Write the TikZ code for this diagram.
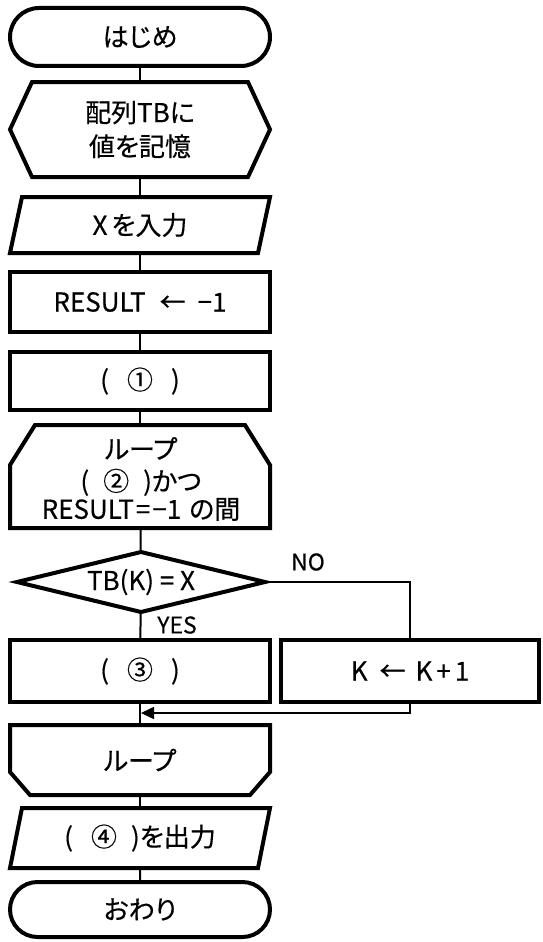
\documentclass[tikz,border=0pt]{standalone}
\usepackage{fontspec}
\setmainfont{Noto Sans CJK JP}[RawFeature=+palt, FakeBold=0.4]
\usetikzlibrary{arrows.meta,shapes.misc}
\begin{document}
\begin{tikzpicture}[x=1pt,y=-1pt,
  every node/.style={inner sep=0pt, outer sep=0pt},
  txt/.style={font=\fontsize{26}{34}\selectfont, align=center},
  lbl/.style={font=\fontsize{23}{28}\selectfont},
  frame/.style={line width=4pt, line join=miter},
  holder/.style={txt, rectangle, minimum width=260pt, minimum height=#1},
  procbox/.style={holder=#1, draw, frame},
  term/.style={txt, rounded rectangle, draw, frame, minimum width=260pt, minimum height=#1},
  link/.style={line width=2pt},
  branch/.style={line width=1.6pt}]
\useasboundingbox (0,0) rectangle (542,942);
\fill[white] (0,0) rectangle (542,942);

% start terminal
\node[term=58pt] (start) at (140,37) {はじめ};

% preparation (hexagon)
\node[holder=95pt] (prep) at (140,129.5) {配列TBに\\値を記憶};
\draw[frame] ([xshift=22pt]prep.north west) -- ([xshift=-22pt]prep.north east)
  -- (prep.east) -- ([xshift=-22pt]prep.south east)
  -- ([xshift=22pt]prep.south west) -- (prep.west) -- cycle;

% input (parallelogram)
\node[holder=56pt] (inp) at (140,225) {X\hspace{4pt}を入力};
\draw[frame] ([xshift=12pt]inp.north west) -- (inp.north east)
  -- ([xshift=-12pt]inp.south east) -- (inp.south west) -- cycle;

% processes
\node[procbox=60pt] (init) at (140,302) {RESULT\hspace{14pt}←\hspace{12pt}−1};
\node[procbox=58pt] (s1) at (140,381) {(\hspace{18pt}①\hspace{18pt})};

% loop start
\node[holder=103pt] (lbeg) at (140,476.5) {};
\node[txt, font=\fontsize{26}{28}\selectfont] (lbegtext) at (141,479)
  {ループ\\[4pt](\hspace{14pt}②\hspace{14pt})かつ\\RESULT\hspace{2pt}=\hspace{2pt}−1\hspace{8pt}の間};
\draw[frame] ([xshift=25pt]lbeg.north west) -- ([xshift=-25pt]lbeg.north east)
  -- ([yshift=-40pt]lbeg.north east) -- (lbeg.south east)
  -- (lbeg.south west) -- ([yshift=-40pt]lbeg.north west) -- cycle;

% decision
\node[txt, rectangle, minimum width=248pt, minimum height=60pt] (dec) at (141,582) {TB(K) = X};
\draw[frame] (dec.north) -- (dec.east) -- (dec.south) -- (dec.west) -- cycle;
\node[lbl] (no) at (308,562) {NO};
\node[lbl] (yes) at (177,625) {YES};

% branches
\node[procbox=62pt] (s3) at (140,671) {(\hspace{18pt}③\hspace{18pt})};
\node[txt, rectangle, draw, frame, minimum width=258pt, minimum height=62pt] (inc) at (410,671) {K\hspace{12pt}←\hspace{10pt}K\hspace{4pt}+\hspace{4pt}1};

% loop end
\node[holder=70pt] (lend) at (140,760) {ループ};
\draw[frame] (lend.north west) -- (lend.north east)
  -- ([yshift=23pt]lend.south east) -- ([xshift=-20pt]lend.south east)
  -- ([xshift=20pt]lend.south west) -- ([yshift=23pt]lend.south west) -- cycle;

% output (parallelogram)
\node[holder=60pt] (outp) at (140,838) {(\hspace{18pt}④\hspace{14pt})を出力};
\draw[frame] ([xshift=12pt]outp.north west) -- (outp.north east)
  -- ([xshift=-12pt]outp.south east) -- (outp.south west) -- cycle;

% end terminal
\node[term=55pt] (stop) at (140,909.5) {おわり};

% main flow
\draw[link] (start) -- (prep);
\draw[link] (prep) -- (inp);
\draw[link] (inp) -- (init);
\draw[link] (init) -- (s1);
\draw[link] (s1) -- (lbeg);
\draw[link] (lbeg) -- (dec);
\draw[link] (dec) -- (s3);
\draw[link] (s3) -- (lend);
\draw[link] (lend) -- (outp);
\draw[link] (outp) -- (stop);

% NO branch and return
\coordinate (join) at (141,713);
\draw[branch] (dec.east) -| (inc.north);
\draw[branch, -{Triangle[length=13pt,width=12pt]}] (inc.south) |- (join);
\end{tikzpicture}
\end{document}
